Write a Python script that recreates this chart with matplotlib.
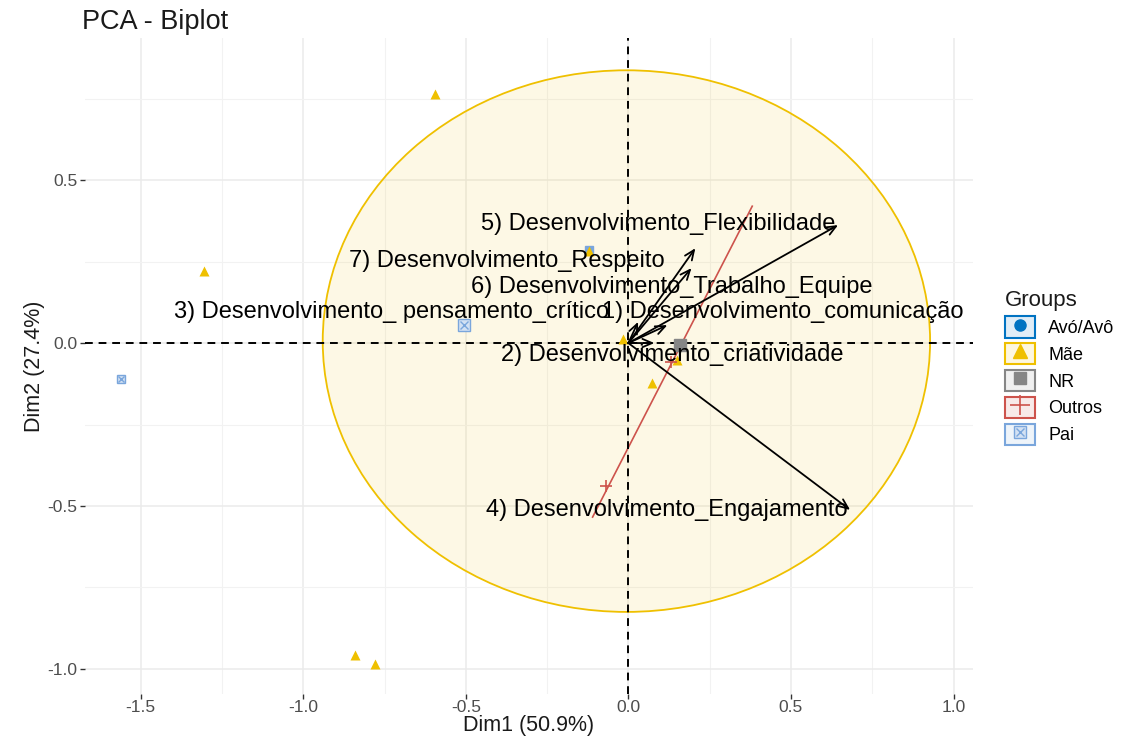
import matplotlib
matplotlib.use("Agg")
import matplotlib.pyplot as plt
from matplotlib.patches import Ellipse, Patch
from matplotlib.lines import Line2D
from matplotlib.legend_handler import HandlerTuple

plt.rcParams['font.family'] = ['Liberation Sans', 'DejaVu Sans']

# --- data -------------------------------------------------------------
groups = ["Avó/Avô", "Mãe", "NR", "Outros", "Pai"]
group_colors = ["#0073C2", "#EFC000", "#868686", "#CD534C", "#7AA6DC"]

# individuals (Dim1, Dim2) per group
avo_x, avo_y = [0.16], [-0.006]
mae_x = [-0.596, -1.306, -0.842, -0.780, 0.074, -0.120, -0.018, 0.150]
mae_y = [0.764, 0.221, -0.957, -0.985, -0.123, 0.282, 0.012, -0.052]
nr_x, nr_y = [0.160], [-0.006]
outros_x = [-0.070, 0.130]
outros_y = [-0.440, -0.058]
pai_x = [-1.561, -0.507, -0.120]
pai_y = [-0.110, 0.055, 0.285]

# group ellipses
mae_ellipse_center = (-0.006, 0.006)
mae_ellipse_size = (1.868, 1.662)
outros_ellipse_x = [-0.110, 0.381]
outros_ellipse_y = [-0.534, 0.420]

# variables (arrow tips) and their label anchors
var_labels = [
    "1) Desenvolvimento_comunicação",
    "2) Desenvolvimento_criatividade",
    "3) Desenvolvimento_ pensamento_crítico",
    "4) Desenvolvimento_Engajamento",
    "5) Desenvolvimento_Flexibilidade",
    "6) Desenvolvimento_Trabalho_Equipe",
    "7) Desenvolvimento_Respeito",
]
var_x = [0.120, 0.080, 0.030, 0.682, 0.645, 0.194, 0.206]
var_y = [0.055, 0.000, 0.065, -0.512, 0.362, 0.230, 0.291]
label_x = [0.476, 0.135, -0.728, 0.117, 0.093, 0.132, -0.375]
label_y = [0.095, -0.037, 0.095, -0.512, 0.365, 0.172, 0.252]

xticks = [-1.5, -1.0, -0.5, 0.0, 0.5, 1.0]
yticks = [-1.0, -0.5, 0.0, 0.5]

# --- figure -----------------------------------------------------------
fig = plt.figure(figsize=(11.25, 7.37), dpi=100)
ax = fig.add_axes([0.0756, 0.0583, 0.7893, 0.8901])
ax.set_xlim(-1.671, 1.060)
ax.set_ylim(-1.077, 0.936)

for s in ax.spines.values():
    s.set_visible(False)

ax.set_xticks(xticks)
ax.set_yticks(yticks)
ax.set_xticks([-1.25, -0.75, -0.25, 0.25, 0.75], minor=True)
ax.set_yticks([-0.75, -0.25, 0.25, 0.75], minor=True)
ax.set_xticklabels([f"{v:.1f}" for v in xticks])
ax.set_yticklabels([f"{v:.1f}" for v in yticks])
ax.tick_params(axis='both', which='major', length=3.5, width=1.0, color='#333333',
               labelcolor='#4D4D4D', labelsize=12.5, pad=2)
ax.tick_params(axis='x', which='major', pad=1)
ax.tick_params(axis='both', which='minor', length=0)
ax.grid(True, which='major', color='#EBEBEB', lw=1.1, zorder=0)
ax.grid(True, which='minor', color='#F2F2F2', lw=0.8, zorder=0)
ax.set_axisbelow(True)

ax.set_xlabel("Dim1 (50.9%)", fontsize=15.5, color='#1A1A1A', labelpad=0)
ax.set_ylabel("Dim2 (27.4%)", fontsize=15.5, color='#1A1A1A', labelpad=2)
fig.text(0.073, 0.970, "PCA - Biplot", fontsize=19.5, color='#1A1A1A', va='center')

# group ellipses
ell = Ellipse(mae_ellipse_center, mae_ellipse_size[0], mae_ellipse_size[1],
              facecolor=(239/255, 192/255, 0, 0.1), edgecolor=group_colors[1],
              lw=1.3, zorder=1)
ax.add_patch(ell)
ax.plot(outros_ellipse_x, outros_ellipse_y, color=group_colors[3], lw=1.2, zorder=2)

# reference lines
ax.axhline(0, color='black', lw=1.4, ls=(0, (4, 3)), zorder=3)
ax.axvline(0, color='black', lw=1.4, ls=(0, (4, 3)), zorder=3)

# individuals
ax.plot(avo_x, avo_y, 'o', color=group_colors[0], ms=6, zorder=4)
ax.plot(pai_x[2:], pai_y[2:], 's', mfc=group_colors[4], mec=group_colors[4], ms=6, zorder=4)
ax.plot(mae_x, mae_y, '^', color=group_colors[1], ms=6.5, mec='none', zorder=5)
ax.plot(nr_x, nr_y, 's', color=group_colors[2], ms=9, zorder=5)
ax.plot(outros_x, outros_y, '+', color=group_colors[3], ms=9, mew=1.2, zorder=5)
pai_ms = [6, 9]
for px, py, m in zip(pai_x[:2], pai_y[:2], pai_ms):
    ax.plot([px], [py], 's', mfc='#D3E1F3', mec=group_colors[4], ms=m, mew=1.0, zorder=5)
    ax.plot([px], [py], 'x', color=group_colors[4], ms=m * 0.7, mew=1.0, zorder=6)

# variable arrows
for tx, ty in zip(var_x, var_y):
    ax.annotate("", xy=(tx, ty), xytext=(0, 0),
                arrowprops=dict(arrowstyle='->,head_length=0.7,head_width=0.3',
                                color='black', lw=1.3, shrinkA=0, shrinkB=0),
                zorder=7)
for lab, lx, ly in zip(var_labels, label_x, label_y):
    ax.text(lx, ly, lab, fontsize=17, color='black', ha='center', va='center', zorder=8)

# legend
handles = []
for g, c in zip(groups, group_colors):
    r, gg, b = [int(c[i:i + 2], 16) / 255 for i in (1, 3, 5)]
    bg = Patch(facecolor=(r, gg, b, 0.12), edgecolor=c, lw=1.5)
    if g == "Avó/Avô":
        mk = [Line2D([], [], marker='o', color=c, ls='none', ms=8)]
    elif g == "Mãe":
        mk = [Line2D([], [], marker='^', color=c, ls='none', ms=10)]
    elif g == "NR":
        mk = [Line2D([], [], marker='s', color=c, ls='none', ms=8)]
    elif g == "Outros":
        mk = [Line2D([], [], marker='+', color=c, ls='none', ms=14, mew=1.2)]
    else:
        mk = [Line2D([], [], marker='s', mfc='#D3E1F3', mec=c, ls='none', ms=8),
              Line2D([], [], marker='x', color=c, ls='none', ms=5.5)]
    handles.append(tuple([bg] + mk))

leg = fig.legend(handles, groups, loc='upper left', bbox_to_anchor=(0.882, 0.624),
                 frameon=False, title="Groups", fontsize=13, title_fontsize=16,
                 handlelength=1.65, handleheight=1.45, handletextpad=0.75,
                 labelspacing=0.3, alignment='left', borderpad=0.2,
                 handler_map={tuple: HandlerTuple(ndivide=1, pad=0)})
leg.get_title().set_color('#1A1A1A')

fig.savefig("out.png", dpi=100)
